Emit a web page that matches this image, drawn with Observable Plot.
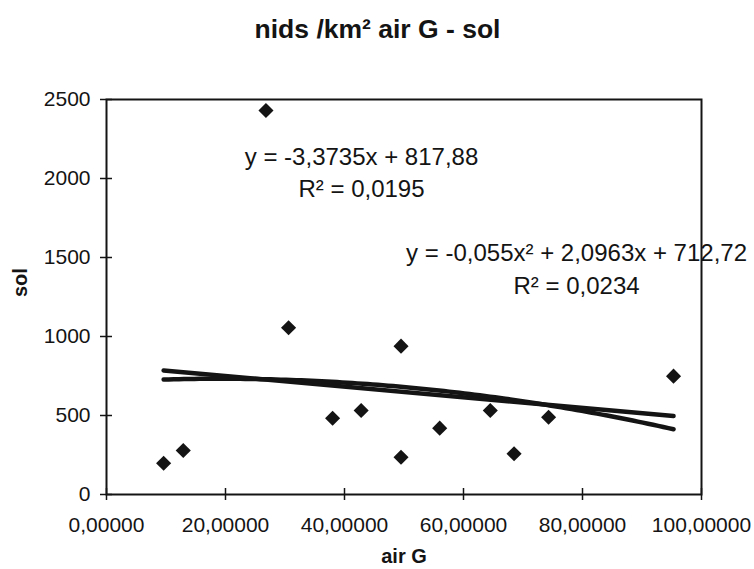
<!DOCTYPE html>
<html>
<head>
<meta charset="utf-8">
<script src="https://cdn.jsdelivr.net/npm/d3@7"></script>
<script src="https://cdn.jsdelivr.net/npm/@observablehq/plot@0.6"></script>
<style>
  html, body { margin: 0; padding: 0; background: #fff; }
  #chart { width: 754px; height: 569px; }
</style>
</head>
<body>
<div id="chart"></div>
<script>
// ---- data ----
const airG = [9.6, 12.9, 26.8, 30.6, 38.0, 42.8, 49.5, 49.5, 56.0, 64.5, 68.5, 74.3, 95.3];
const sol  = [198, 278, 2430, 1055, 483, 532, 939, 236, 420, 532, 258, 489, 749];

// trend line equations as printed on the chart
const linearCoef = [817.88, -3.3735];          // y = -3,3735x + 817,88
const quadCoef   = [712.72, 2.0963, -0.055];   // y = -0,055x² + 2,0963x + 712,72

const titleText = "nids /km² air G - sol";
const xLabel = "air G";
const yLabel = "sol";
const eqLinear = "y = -3,3735x + 817,88\nR² = 0,0195";
const eqQuad = "y = -0,055x² + 2,0963x + 712,72\nR² = 0,0234";

const xTicks = [0, 20, 40, 60, 80, 100];
const yTicks = [0, 500, 1000, 1500, 2000, 2500];

// ---- build tables ----
const points = airG.map((x, i) => ({x, y: sol[i]}));
const xMin = d3.min(airG), xMax = d3.max(airG);
const poly = (c, x) => c.reduce((s, a, k) => s + a * Math.pow(x, k), 0);
const linearLine = [xMin, xMax].map(x => ({x, y: poly(linearCoef, x)}));
const quadLine = d3.range(0, 101).map(i => {
  const x = xMin + (xMax - xMin) * i / 100;
  return {x, y: poly(quadCoef, x)};
});

const font = "'Liberation Sans', Arial, sans-serif";
const ink = "#141414";

const chart = Plot.plot({
  width: 754,
  height: 569,
  marginTop: 99,
  marginBottom: 75,
  marginLeft: 106,
  marginRight: 53,
  style: {fontFamily: font, fontSize: "21px", color: ink, background: "#fff"},
  x: {domain: [0, 100]},
  y: {domain: [0, 2500]},
  marks: [
    // trend lines
    Plot.line(linearLine, {x: "x", y: "y", stroke: ink, strokeWidth: 4.5, strokeLinecap: "round"}),
    Plot.line(quadLine, {x: "x", y: "y", stroke: ink, strokeWidth: 4.5, strokeLinecap: "round"}),
    // data points
    Plot.dot(points, {x: "x", y: "y", symbol: "diamond2", r: 6.8, fill: ink, stroke: "none"}),
    // equations
    Plot.text([eqLinear], {x: 42.86, y: 1886, text: d => d, textAnchor: "middle", lineAnchor: "bottom",
      lineHeight: 1.33, fontSize: 24, fill: ink}),
    Plot.text([eqQuad], {x: 79.0, y: 1266, text: d => d, textAnchor: "middle", lineAnchor: "bottom",
      lineHeight: 1.4, fontSize: 24, fill: ink}),
    // frame (plot area border)
    Plot.frame({stroke: ink, strokeWidth: 2}),
    // crossing tick marks
    Plot.ruleX(xTicks, {x: d => d, y1: 0, y2: 0, insetTop: -6, insetBottom: -6, stroke: ink, strokeWidth: 1.5}),
    Plot.ruleY(yTicks, {y: d => d, x1: 0, x2: 0, insetLeft: -6, insetRight: -6, stroke: ink, strokeWidth: 1.5}),
    // axes
    Plot.axisX({ticks: xTicks, tickSize: 0, tickPadding: 23, fontSize: 21, label: null,
      tickFormat: d => d.toFixed(5).replace(".", ",")}),
    Plot.axisY({ticks: yTicks, tickSize: 0, tickPadding: 16, fontSize: 21, label: null,
      tickFormat: d => String(d)}),
    // axis titles
    Plot.text([xLabel], {frameAnchor: "bottom", dy: 68, text: d => d, fontSize: 20, fontWeight: "bold", fill: ink}),
    Plot.text([yLabel], {frameAnchor: "left", dx: -86, rotate: -90, text: d => d, fontSize: 20, fontWeight: "bold", fill: ink}),
    // title
    Plot.text([titleText], {frameAnchor: "top", dx: -26.5, dy: -62, lineAnchor: "bottom", text: d => d,
      fontSize: 26.5, fontWeight: "bold", fill: ink})
  ]
});
document.getElementById("chart").append(chart);
</script>
</body>
</html>
